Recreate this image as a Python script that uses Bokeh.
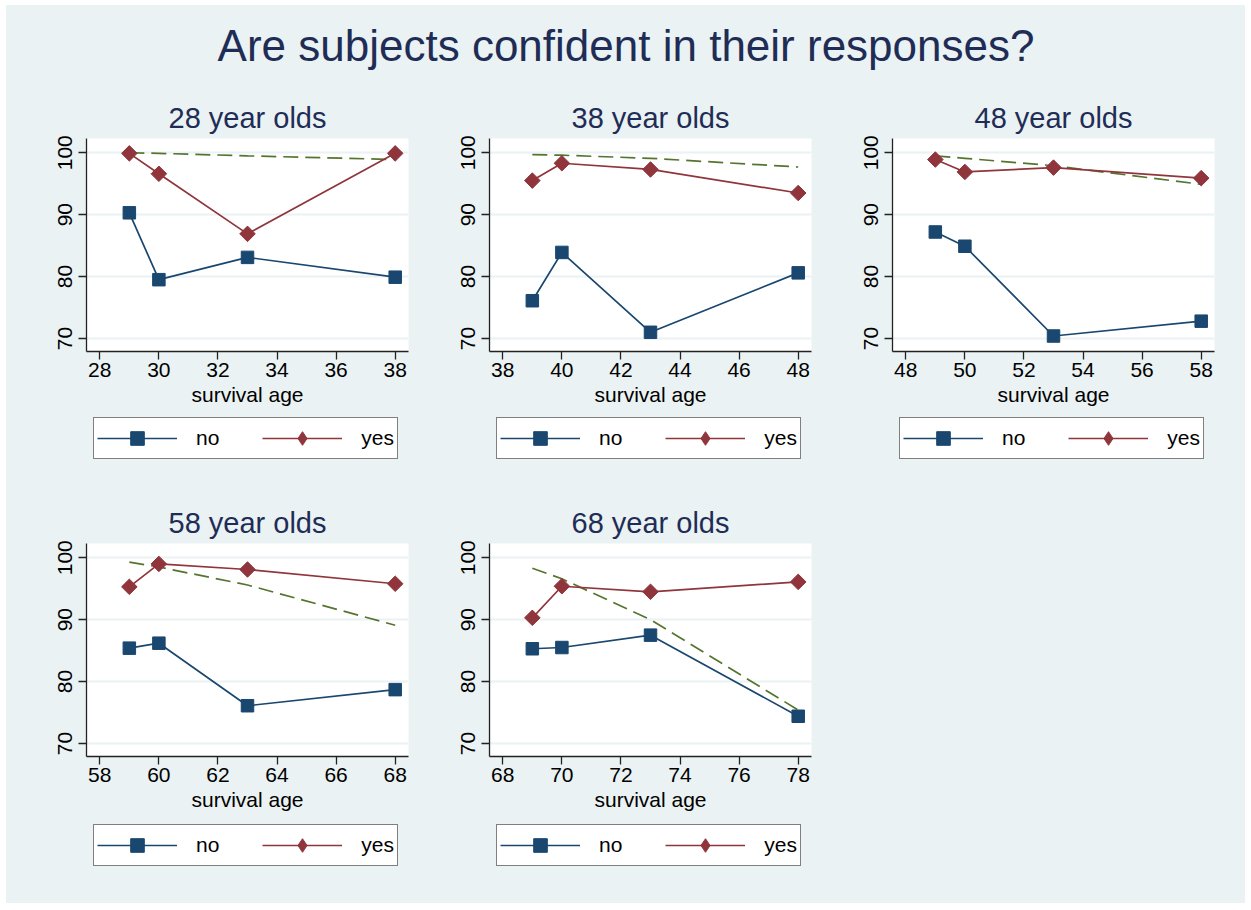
import numpy as np
from bokeh.plotting import figure
from bokeh.layouts import column, row
from bokeh.models import Legend, LegendItem, Range1d, FixedTicker, Spacer
from bokeh.embed import file_html
from bokeh.resources import INLINE

# ---- data ----
groups = [28, 38, 48, 58, 68]
surv_age = {
    28: [29, 30, 33, 38],
    38: [39, 40, 43, 48],
    48: [49, 50, 53, 58],
    58: [59, 60, 63, 68],
    68: [69, 70, 73, 78],
}
conf_no = {
    28: [90.3, 79.5, 83.1, 79.9],
    38: [76.1, 83.9, 71.0, 80.6],
    48: [87.2, 84.9, 70.4, 72.8],
    58: [85.4, 86.2, 76.1, 78.7],
    68: [85.3, 85.5, 87.5, 74.4],
}
conf_yes = {
    28: [99.9, 96.6, 86.9, 99.9],
    38: [95.5, 98.3, 97.3, 93.5],
    48: [98.9, 96.9, 97.6, 95.9],
    58: [95.3, 99.0, 98.1, 95.8],
    68: [90.3, 95.4, 94.5, 96.1],
}
survival = {
    28: [100.0, 99.9, 99.5, 98.9],
    38: [99.7, 99.6, 99.1, 97.7],
    48: [99.5, 99.1, 97.9, 94.9],
    58: [99.3, 98.5, 95.6, 89.1],
    68: [98.3, 96.6, 90.0, 75.4],
}
legend_labels = ["no", "yes"]
y_ticks = [70, 80, 90, 100]
main_title = "Are subjects confident in their responses?"
x_label = "survival age"

BG = "#EAF2F3"
FONT = "Liberation Sans"
NAVY = "#1a476f"
MAROON = "#90353b"
GREEN = "#55752f"
TITLE_C = "#1f2d56"


def make_panel(g, width, right_border):
    p = figure(width=width, height=329,
               x_range=Range1d(g - 0.45, g + 10.45),
               y_range=Range1d(67.9, 102.3),
               output_backend="svg", toolbar_location=None,
               min_border_left=80, min_border_right=right_border,
               min_border_top=50, min_border_bottom=66,
               background_fill_color="white", border_fill_color=BG,
               outline_line_color=None)
    p.title.text = f"{g} year olds"
    p.title.align = "center"
    p.title.text_font = FONT
    p.title.text_font_size = "29px"
    p.title.text_font_style = "normal"
    p.title.text_color = TITLE_C
    p.title.standoff = 10

    p.xaxis.ticker = FixedTicker(ticks=list(range(g, g + 11, 2)))
    p.yaxis.ticker = FixedTicker(ticks=y_ticks)
    p.xaxis.axis_label = x_label
    p.yaxis.major_label_orientation = "vertical"
    for ax in (p.xaxis, p.yaxis):
        ax.major_label_text_font = FONT
        ax.major_label_text_font_size = "21px"
        ax.major_label_text_color = "black"
        ax.axis_label_text_font = FONT
        ax.axis_label_text_font_size = "21px"
        ax.axis_label_text_font_style = "normal"
        ax.axis_label_text_color = "black"
        ax.axis_line_color = "#222222"
        ax.axis_line_width = 1.3
        ax.major_tick_line_color = "#222222"
        ax.major_tick_line_width = 1.3
        ax.major_tick_out = 8
        ax.major_tick_in = 0
        ax.minor_tick_line_color = None
    p.xaxis.major_label_standoff = 3
    p.xaxis.axis_label_standoff = 3
    p.yaxis.major_label_standoff = 6
    p.xgrid.visible = False
    p.ygrid.grid_line_color = BG
    p.ygrid.grid_line_width = 1.8

    x = surv_age[g]
    p.line(x, survival[g], line_color=GREEN, line_width=1.7, line_dash="15 7")
    p.line(x, conf_no[g], line_color=NAVY, line_width=1.7)
    p.scatter(x, conf_no[g], marker="square", size=12.5,
              fill_color=NAVY, line_color=NAVY)
    p.line(x, conf_yes[g], line_color=MAROON, line_width=1.7)
    p.scatter(x, conf_yes[g], marker="square", size=11, angle=np.pi / 4,
              fill_color=MAROON, line_color=MAROON)
    return p


def make_legend_fig(g, width, height, y_loc):
    # legend-only strip; its glyphs use the panel's data, which lies outside
    # this strip's (0, 1) ranges, so only the legend swatches are visible
    lf = figure(width=width, height=height, output_backend="svg",
                toolbar_location=None, x_range=Range1d(0, 1), y_range=Range1d(0, 1),
                min_border_left=0, min_border_right=0, min_border_top=0,
                min_border_bottom=0, background_fill_color=BG,
                border_fill_color=BG, outline_line_color=None)
    lf.axis.visible = False
    lf.grid.visible = False
    x = surv_age[g]
    l_no = lf.line(x, conf_no[g], line_color=NAVY, line_width=1.7)
    s_no = lf.scatter(x, conf_no[g], marker="square", size=12.5,
                      fill_color=NAVY, line_color=NAVY)
    l_yes = lf.line(x, conf_yes[g], line_color=MAROON, line_width=1.7)
    d_yes = lf.scatter(x, conf_yes[g], marker="diamond", size=16,
                       fill_color=MAROON, line_color=MAROON)
    legend = Legend(items=[LegendItem(label=legend_labels[0], renderers=[l_no, s_no]),
                           LegendItem(label=legend_labels[1], renderers=[l_yes, d_yes])],
                    orientation="horizontal", location=(87, y_loc))
    legend.border_line_color = "black"
    legend.border_line_width = 1
    legend.background_fill_color = "white"
    legend.background_fill_alpha = 1
    legend.label_text_font = FONT
    legend.label_text_font_size = "21px"
    legend.label_text_color = "black"
    legend.glyph_width = 80
    legend.glyph_height = 34
    legend.label_standoff = 19
    legend.spacing = 43
    legend.padding = 3
    legend.margin = 0
    lf.add_layout(legend, "center")
    return lf


title_fig = figure(width=1239, height=83, output_backend="svg",
                   toolbar_location=None, border_fill_color=BG,
                   background_fill_color=BG, outline_line_color=None,
                   min_border_top=69, min_border_left=0, min_border_right=0,
                   min_border_bottom=0)
title_fig.title.text = main_title
title_fig.title.align = "center"
title_fig.title.text_font = FONT
title_fig.title.text_font_size = "44px"
title_fig.title.text_font_style = "normal"
title_fig.title.text_color = TITLE_C
title_fig.axis.visible = False
title_fig.grid.visible = False

p1 = make_panel(28, 403, 1)
p2 = make_panel(38, 403, 1)
p3 = make_panel(48, 433, 31)
p4 = make_panel(58, 403, 1)
p5 = make_panel(68, 403, 1)
lg1 = [make_legend_fig(28, 403, 76, 34), make_legend_fig(38, 403, 76, 34),
       make_legend_fig(48, 433, 76, 34)]
lg2 = [make_legend_fig(58, 403, 81, 37), make_legend_fig(68, 403, 81, 37)]
sp1 = Spacer(width=433, height=329, styles={"background-color": BG})
sp2 = Spacer(width=433, height=81, styles={"background-color": BG})

layout = column(title_fig,
                row(p1, p2, p3),
                row(*lg1),
                row(p4, p5, sp1),
                row(lg2[0], lg2[1], sp2),
                styles={"background-color": BG}, margin=(5, 0, 0, 6))

open("out.html", "w").write(file_html(layout, INLINE))
